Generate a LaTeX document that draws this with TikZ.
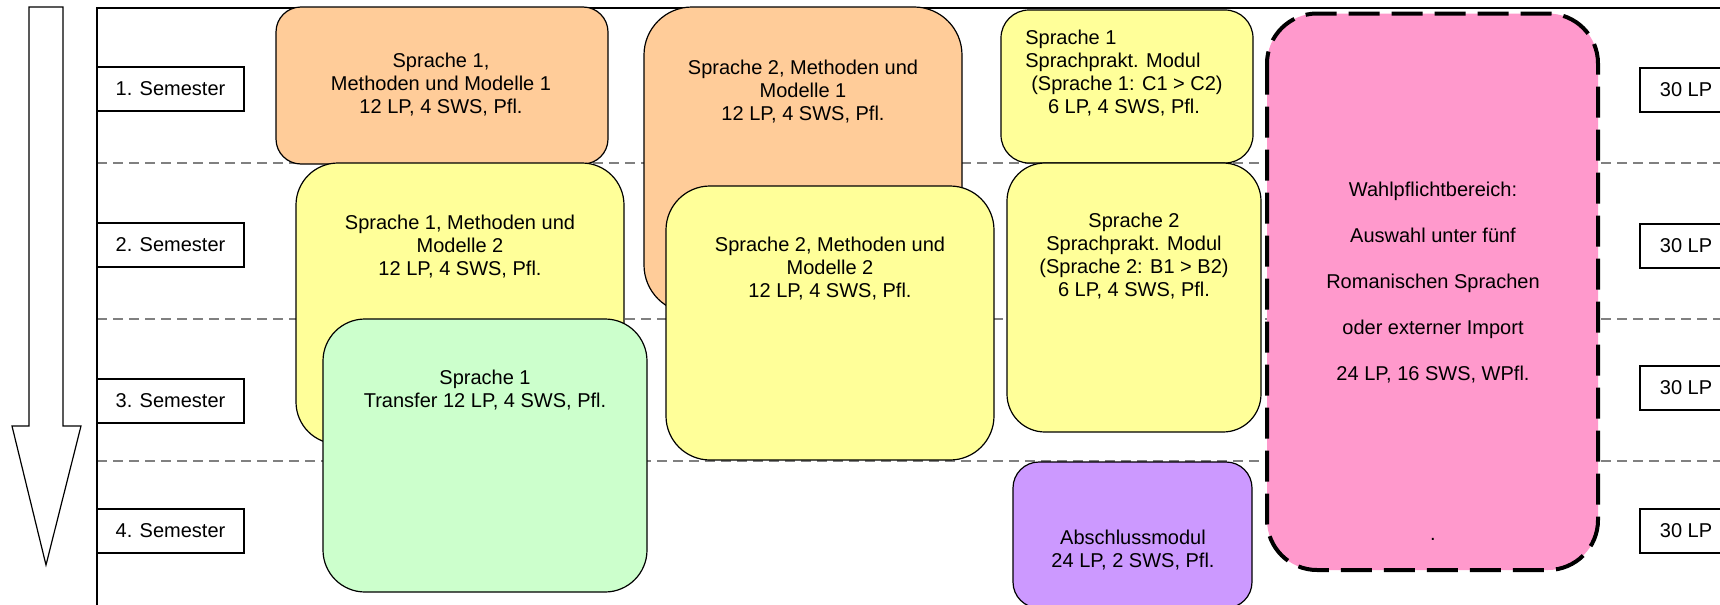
\documentclass[tikz,border=0pt]{standalone}
\usepackage{fontspec}
\setmainfont{Liberation Sans}
\usetikzlibrary{positioning}

\definecolor{orangemod}{HTML}{FFCC99}
\definecolor{yellowmod}{HTML}{FFFF99}
\definecolor{greenmod}{HTML}{CCFFCC}
\definecolor{purplemod}{HTML}{CC99FF}
\definecolor{pinkmod}{HTML}{FF99CC}

\tikzset{
  modul/.style={draw=black, line width=0.6pt, rounded corners=#1},
  modtext/.style={inner sep=0pt, align=center, font=\fontsize{10}{11.5}\selectfont},
  sembox/.style={draw=black, fill=white, line width=1pt, minimum width=73.5pt,
    minimum height=22pt, inner sep=0pt, font=\fontsize{10}{11.5}\selectfont},
  lpbox/.style={sembox, minimum width=46pt},
  rowline/.style={draw=gray, line width=1pt, dash pattern=on 5pt off 3pt},
  wahlbox/.style={draw=black, fill=pinkmod, line width=2pt,
    dash pattern=on 15.5pt off 6pt, rounded corners=25pt}
}

\begin{document}
\begin{tikzpicture}[x=0.5pt, y=-0.5pt]
  \clip (0,0) rectangle (1720,605);
  \fill[white] (0,0) rectangle (1720,605);

  % semester rows
  \foreach \y in {163,319,461}
    \draw[rowline] (97,\y) -- (1720,\y);
  \draw[line width=1pt] (1725,8) -- (97,8) -- (97,610);

  % time arrow
  \draw[fill=white, line width=0.6pt] (29,7) -- (63,7) -- (63,426) -- (81,426)
    -- (46,565) -- (12,426) -- (29,426) -- cycle;

  % Sprache 1
  \draw[modul=12.5pt, fill=orangemod] (276,7) rectangle (608,164);
  \node[modtext] (s1m1) at (441,84.5) {Sprache 1,\\Methoden und Modelle 1\\12 LP, 4 SWS, Pfl.};
  \draw[modul=21pt, fill=yellowmod] (296,163) rectangle (624,444);
  \node[modtext] (s1m2) at (460,246.5) {Sprache 1, Methoden und\\Modelle 2\\12 LP, 4 SWS, Pfl.};
  \draw[modul=21pt, fill=greenmod] (323,319) rectangle (647,592);
  \node[modtext] (s1tr) at (485,390.5) {Sprache 1\\Transfer 12 LP, 4 SWS, Pfl.};

  % Sprache 2
  \draw[modul=24pt, fill=orangemod] (644,7) rectangle (962,313);
  \node[modtext] (s2m1) at (803,91.5) {Sprache 2, Methoden und\\Modelle 1\\12 LP, 4 SWS, Pfl.};
  \draw[modul=22pt, fill=yellowmod] (666,186) rectangle (994,460);
  \node[modtext] (s2m2) at (830,268.5) {Sprache 2, Methoden und\\Modelle 2\\12 LP, 4 SWS, Pfl.};

  % Sprachpraxis und Abschluss
  \draw[modul=14pt, fill=yellowmod] (1001,10) rectangle (1253,163);
  \node[modtext] (s1sp) at (1124,74.5) {\begin{tabular}{@{}l@{}}
    Sprache 1\\
    Sprachprakt. Modul\\
    \hspace*{3pt}(Sprache 1: C1 > C2)\\
    \multicolumn{1}{@{}c@{}}{6 LP, 4 SWS, Pfl.}
  \end{tabular}};
  \draw[modul=19pt, fill=yellowmod] (1007,163) rectangle (1261,432);
  \node[modtext] (s2sp) at (1134,256) {Sprache 2\\Sprachprakt. Modul\\(Sprache 2: B1 > B2)\\6 LP, 4 SWS, Pfl.};
  \draw[modul=13pt, fill=purplemod] (1013,462) rectangle (1252,608);
  \node[modtext] (absch) at (1133,550) {Abschlussmodul\\24 LP, 2 SWS, Pfl.};

  % Wahlpflichtbereich
  \draw[wahlbox] (1267,13.5) rectangle (1598,570);
  \node[modtext, font=\fontsize{10}{23}\selectfont, anchor=north] (wahl) at (1433,182)
    {Wahlpflichtbereich:\\Auswahl unter fünf\\Romanischen Sprachen\\oder externer Import\\24 LP, 16 SWS, WPfl.\\[57pt].};

  % Semester und Leistungspunkte
  \foreach \n/\y in {1/88.5, 2/245, 3/401, 4/530.5}
    \node[sembox] (sem\n) at (170.5,\y) {\n. Semester};
  \foreach \n/\y in {1/90, 2/246, 3/388, 4/530.5}
    \node[lpbox] (lp\n) at (1686,\y) {30 LP};
\end{tikzpicture}
\end{document}
